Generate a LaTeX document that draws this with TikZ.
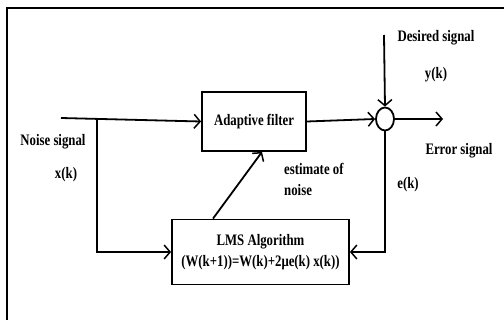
\documentclass[tikz,border=0pt]{standalone}
\usepackage{fontspec}
\setmainfont[FakeStretch=0.8]{Liberation Serif}
\usetikzlibrary{arrows.meta,positioning,shapes.geometric}

\tikzset{
  blk/.style={draw,line width=1.8pt,rectangle,inner sep=2pt},
  sig/.style={line width=1.8pt,-{Straight Barb[length=6pt,width=14pt,line width=1.5pt]}},
  lbl/.style={font=\fontsize{16}{19}\selectfont\bfseries,inner sep=0pt},
}

\begin{document}
\begin{tikzpicture}[x=1pt,y=-1pt]
  \useasboundingbox (0,0) rectangle (504,320);
  % outer frame (only top and left edge visible)
  \draw[line width=2.5pt] (7,320) -- (7,8) -- (504,8);
  % blocks
  \node[blk,lbl,minimum width=104,minimum height=59] (filter) at (254,121.5) {Adaptive filter};
  \node[blk,lbl,minimum width=177,minimum height=65,align=center] (lms) at (260.5,252)
    {LMS Algorithm\\[2pt](W(k+1))=W(k)+2μe(k) x(k))};
  \node[draw,line width=1.8pt,ellipse,minimum width=18,minimum height=23,inner sep=0pt] (sum) at (385,119) {};
  % free ends
  \coordinate (in) at (61,118);
  \coordinate (br) at (97,118);
  \coordinate (des) at (384,35);
  \coordinate (out) at (443,119);
  % connectors
  \draw[sig] (in) -- (filter.west);
  \draw[sig] (br) |- (lms.west);
  \draw[sig] (filter.east) -- (sum.west);
  \draw[sig] (des) -- (sum.north);
  \draw[sig] (sum.east) -- (out);
  \draw[sig] (sum.south) |- (lms.east);
  \draw[sig] ([xshift=-47.5pt]lms.north) -- ([xshift=8pt]filter.south);
  % labels
  \node[lbl] (nsig) at (53,142) {Noise signal};
  \node[lbl] (xk) at (66,175) {x(k)};
  \node[lbl] (dsig) at (436,38) {Desired signal};
  \node[lbl] (yk) at (436,75) {y(k)};
  \node[lbl] (esig) at (459,151) {Error signal};
  \node[lbl] (ek) at (408,185) {e(k)};
  \node[lbl,align=left,anchor=west] (est) at (284,179) {estimate of\\[2pt]noise};
\end{tikzpicture}
\end{document}
